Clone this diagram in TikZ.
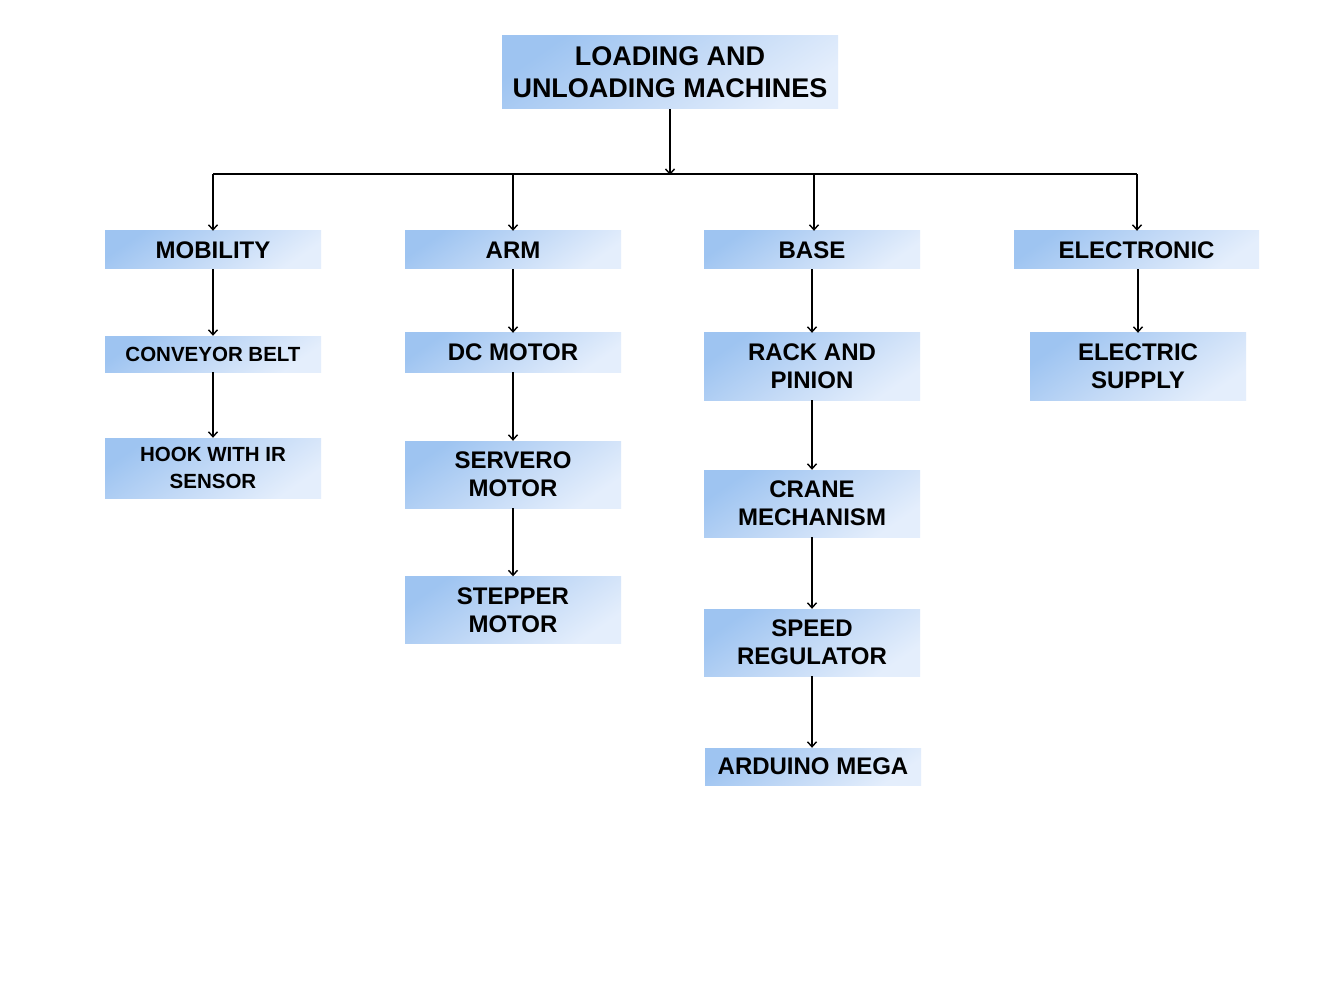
\documentclass[tikz,border=0pt]{standalone}
\usepackage{fontspec}
\setmainfont{Liberation Sans}
\usetikzlibrary{arrows.meta}
\definecolor{boxdark}{RGB}{158,196,241}
\definecolor{boxmid}{RGB}{194,217,246}
\definecolor{boxlight}{RGB}{228,238,252}
\begin{document}
\begin{tikzpicture}[x=1pt,y=-1pt,
  box/.style={draw=none, top color=boxdark, bottom color=boxlight, middle color=boxmid, shading angle=35,
    inner sep=0pt, align=center, font=\bfseries\fontsize{24}{28}\selectfont,
    minimum width=216pt, minimum height=38pt},
  tall/.style={minimum height=67pt},
  small/.style={font=\bfseries\fontsize{20.5}{27}\selectfont},
  conn/.style={line width=1.9pt, -{Straight Barb[length=5pt,width=9pt,line width=1.4pt]}},
  bus/.style={line width=1.9pt}]
\useasboundingbox (0,0) rectangle (1344,1008);
\fill[white] (0,0) rectangle (1344,1008);

\node[box, minimum width=336pt, minimum height=73pt, font=\bfseries\fontsize{27}{32}\selectfont] (top) at (670,72.5) {LOADING AND\\UNLOADING MACHINES};

\node[box] (mob) at (213,250) {MOBILITY};
\node[box] (arm) at (513,250) {ARM};
\node[box] (base) at (812,250) {BASE};
\node[box, minimum width=245pt] (elec) at (1136.5,250) {ELECTRONIC};

\node[box, small, minimum height=36pt] (conv) at (213,354) {CONVEYOR BELT};
\node[box, small, minimum height=60pt] (hook) at (213,468) {HOOK WITH IR\\SENSOR};

\node[box, minimum height=39pt] (dc) at (513,352.5) {DC MOTOR};
\node[box, tall] (servo) at (513,474.5) {SERVERO\\MOTOR};
\node[box, tall] (step1) at (513,610) {STEPPER\\MOTOR};

\node[box, tall] (rack) at (812,366.5) {RACK AND\\PINION};
\node[box, tall] (crane) at (812,503.5) {CRANE\\MECHANISM};
\node[box, tall] (speed) at (812,642.5) {SPEED\\REGULATOR};
\node[box, minimum height=37pt] (ard) at (813,766.5) {ARDUINO MEGA};

\node[box, tall] (supply) at (1138,366.5) {ELECTRIC\\SUPPLY};

\coordinate (bmid) at (670,174);
\coordinate (b1) at (213,174);
\coordinate (b2) at (513,174);
\coordinate (b3) at (814,174);
\coordinate (b4) at (1137,174);

\draw[conn] (top.south) -- ([yshift=-1pt]bmid);
\draw[bus] (b1) -- (b4);
\draw[conn] (b1) -- (b1 |- mob.north);
\draw[conn] (b2) -- (b2 |- arm.north);
\draw[conn] (b3) -- (b3 |- base.north);
\draw[conn] (b4) -- (b4 |- elec.north);

\draw[conn] (mob.south) -- (mob.south |- conv.north);
\draw[conn] (conv.south) -- (conv.south |- hook.north);
\draw[conn] (arm.south) -- (arm.south |- dc.north);
\draw[conn] (dc.south) -- (dc.south |- servo.north);
\draw[conn] (servo.south) -- (servo.south |- step1.north);
\draw[conn] (base.south) -- (base.south |- rack.north);
\draw[conn] (rack.south) -- (rack.south |- crane.north);
\draw[conn] (crane.south) -- (crane.south |- speed.north);
\draw[conn] (speed.south) -- (speed.south |- ard.north);
\draw[conn] ([xshift=1.5pt]elec.south) -- ([xshift=1.5pt]elec.south |- supply.north);
\end{tikzpicture}
\end{document}
